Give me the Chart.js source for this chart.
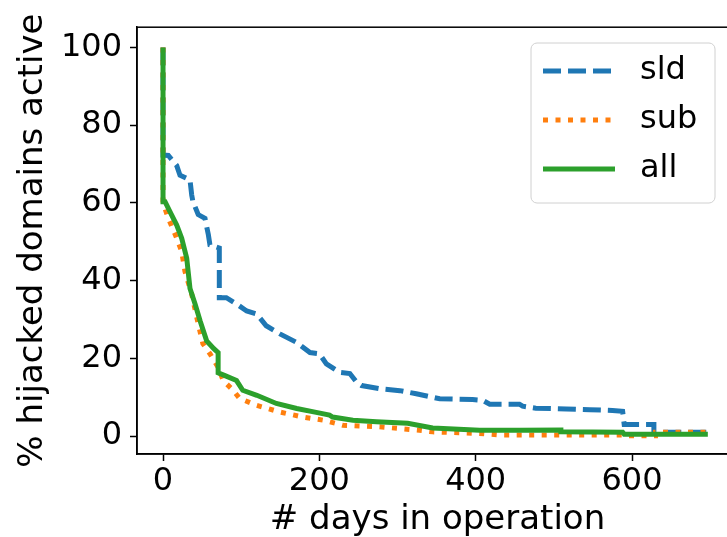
<!DOCTYPE html>
<html>
<head>
<meta charset="utf-8">
<script src="https://cdn.jsdelivr.net/npm/chart.js@4/dist/chart.umd.min.js"></script>
<style>
  html, body { margin: 0; padding: 0; background: #fff; overflow: hidden; }
  .wrapper { position: relative; width: 760px; height: 537px; }
</style>
</head>
<body>
<div class="wrapper"><canvas id="stat"></canvas></div>
<script>
// days in operation vs % of hijacked domains still active
const sldDays = [0, 0, 6.8, 17.5, 21.7, 34.5, 36.7, 38.3, 45, 53.7, 58, 60, 72, 72, 81, 94, 107, 120, 132, 149.5, 171, 188, 200, 209, 226, 239, 247.5, 254, 277, 303, 324, 354, 396, 409, 418, 456, 460, 477, 516, 546, 575, 588, 590, 603, 628, 628, 697];
const sldActive = [100, 72.3, 72.2, 69.6, 67.1, 65.9, 62, 60.3, 57, 56, 51.8, 49.2, 48.4, 35.6, 35.6, 34, 32.2, 31.4, 28.4, 26.3, 24.1, 21.5, 21.2, 18.6, 16.4, 16.1, 13.9, 13, 12.2, 11.7, 10.9, 9.6, 9.4, 9.2, 8.2, 8.2, 7.7, 7.2, 7.0, 6.8, 6.6, 6.4, 3.0, 3.0, 3.0, 1.0, 1.0];

const subDays = [0, 0, 6.8, 13.2, 17.5, 23.9, 28, 36.7, 45, 51, 60, 70.5, 77, 89.6, 98, 120, 149.5, 179, 205, 230, 277, 328, 345, 405, 431, 588, 590, 630, 630, 697];
const subActive = [100, 60, 56, 53, 50.9, 47.5, 42.4, 36.5, 28.9, 23.8, 21.2, 17.7, 14.3, 11.8, 9.7, 7.9, 6.2, 4.9, 4.1, 2.8, 2.4, 1.5, 1.1, 0.7, 0.3, 0.3, 0.1, 0.1, 1.0, 1.0];

const allDays = [0, 0, 2.6, 9, 17.5, 23.9, 30.3, 34.5, 41, 47.5, 55.8, 65, 70.5, 70.5, 80, 94, 102, 120, 145, 171, 196, 213, 217, 243, 273, 313, 345, 405, 456, 509, 509, 588, 590, 697];
const allActive = [100, 60.3, 60.3, 57.7, 54.3, 50.9, 45.8, 38, 34, 29.6, 24.5, 22.5, 21.5, 16.3, 15.5, 14.3, 11.8, 10.5, 8.4, 7.1, 6.1, 5.4, 4.9, 4.1, 3.7, 3.3, 2.1, 1.5, 1.5, 1.6, 1.1, 1.0, 0.5, 0.5];

const xTicks = [0, 200, 400, 600];
const yTicks = [0, 20, 40, 60, 80, 100];

const toPoints = (xs, ys) => xs.map((x, i) => ({ x: x, y: ys[i] }));

Chart.defaults.font.family = "'DejaVu Sans', sans-serif";
Chart.defaults.color = "#000";

// matplotlib-like frame (top spine)
const framePlugin = {
  id: "frame",
  afterDraw(chart) {
    const { ctx, chartArea } = chart;
    ctx.save();
    ctx.strokeStyle = "#000";
    ctx.lineWidth = 1.5;
    ctx.strokeRect(chartArea.left, chartArea.top, chartArea.right - chartArea.left, chartArea.bottom - chartArea.top);
    ctx.restore();
  }
};

// legend box in the upper right corner of the plot
const legendPlugin = {
  id: "boxLegend",
  afterDraw(chart) {
    const ctx = chart.ctx;
    const boxX = 531, boxY = 43, boxW = 184, boxH = 160;
    ctx.save();
    ctx.beginPath();
    ctx.roundRect(boxX, boxY, boxW, boxH, 6);
    ctx.fillStyle = "rgba(255,255,255,0.8)";
    ctx.fill();
    ctx.strokeStyle = "#d0d0d0";
    ctx.lineWidth = 1;
    ctx.stroke();
    chart.data.datasets.forEach((ds, i) => {
      const y = 71 + i * 49;
      ctx.beginPath();
      ctx.setLineDash(ds.borderDash || []);
      ctx.lineCap = "butt";
      ctx.strokeStyle = ds.borderColor;
      ctx.lineWidth = ds.borderWidth;
      ctx.moveTo(543, y);
      ctx.lineTo(615, y);
      ctx.stroke();
      ctx.setLineDash([]);
      ctx.fillStyle = "#000";
      ctx.font = "32px 'DejaVu Sans'";
      ctx.textBaseline = "middle";
      ctx.textAlign = "left";
      ctx.fillText(ds.label, 640, y);
    });
    ctx.restore();
  }
};

const chartData = {
  datasets: [
    {
      label: "sld",
      data: toPoints(sldDays, sldActive),
      borderColor: "#1f77b4",
      borderWidth: 5,
      borderDash: [18, 7],
      order: 3,
    },
    {
      label: "sub",
      data: toPoints(subDays, subActive),
      borderColor: "#ff7f0e",
      borderWidth: 5,
      borderDash: [5, 7.5],
      order: 2,
    },
    {
      label: "all",
      data: toPoints(allDays, allActive),
      borderColor: "#2ca02c",
      borderWidth: 5,
      order: 1, // drawn last, on top
    },
  ],
};

const options = {
  responsive: true,
  maintainAspectRatio: false,
  animation: false,
  layout: { padding: { top: 24, right: 22, left: 0, bottom: 0 } },
  elements: { point: { radius: 0 }, line: { tension: 0, borderCapStyle: "butt" } },
  plugins: { legend: { display: false }, tooltip: { enabled: false } },
  scales: {
    x: {
      type: "linear",
      min: -33.3,
      max: 735.6,
      afterBuildTicks: (scale) => { scale.ticks = xTicks.map((v) => ({ value: v })); },
      afterFit: (scale) => { scale.height = 83; },
      ticks: { font: { size: 32 }, padding: 1, maxRotation: 0 },
      grid: { drawOnChartArea: false, drawTicks: true, tickLength: 7, tickWidth: 1.5, tickColor: "#000" },
      border: { display: true, color: "#000", width: 1.5 },
      title: { display: true, text: "# days in operation", font: { size: 34, lineHeight: 1 }, padding: { top: 0, bottom: 0 } },
    },
    y: {
      type: "linear",
      min: -4.6,
      max: 105.2,
      afterBuildTicks: (scale) => { scale.ticks = yTicks.map((v) => ({ value: v })); },
      afterFit: (scale) => { scale.width = 137; },
      ticks: { font: { size: 32 }, padding: 8 },
      grid: { drawOnChartArea: false, drawTicks: true, tickLength: 7, tickWidth: 1.5, tickColor: "#000" },
      border: { display: true, color: "#000", width: 1.5 },
      title: { display: true, text: "% hijacked domains active", font: { size: 34, lineHeight: 1.2 }, padding: { top: 12.6, bottom: 0 } },
    },
  },
};

const ctx = document.querySelector("#stat").getContext("2d");
const chart = new Chart(ctx, {
  type: "line",
  data: chartData,
  options: options,
  plugins: [framePlugin, legendPlugin],
});
</script>
</body>
</html>
